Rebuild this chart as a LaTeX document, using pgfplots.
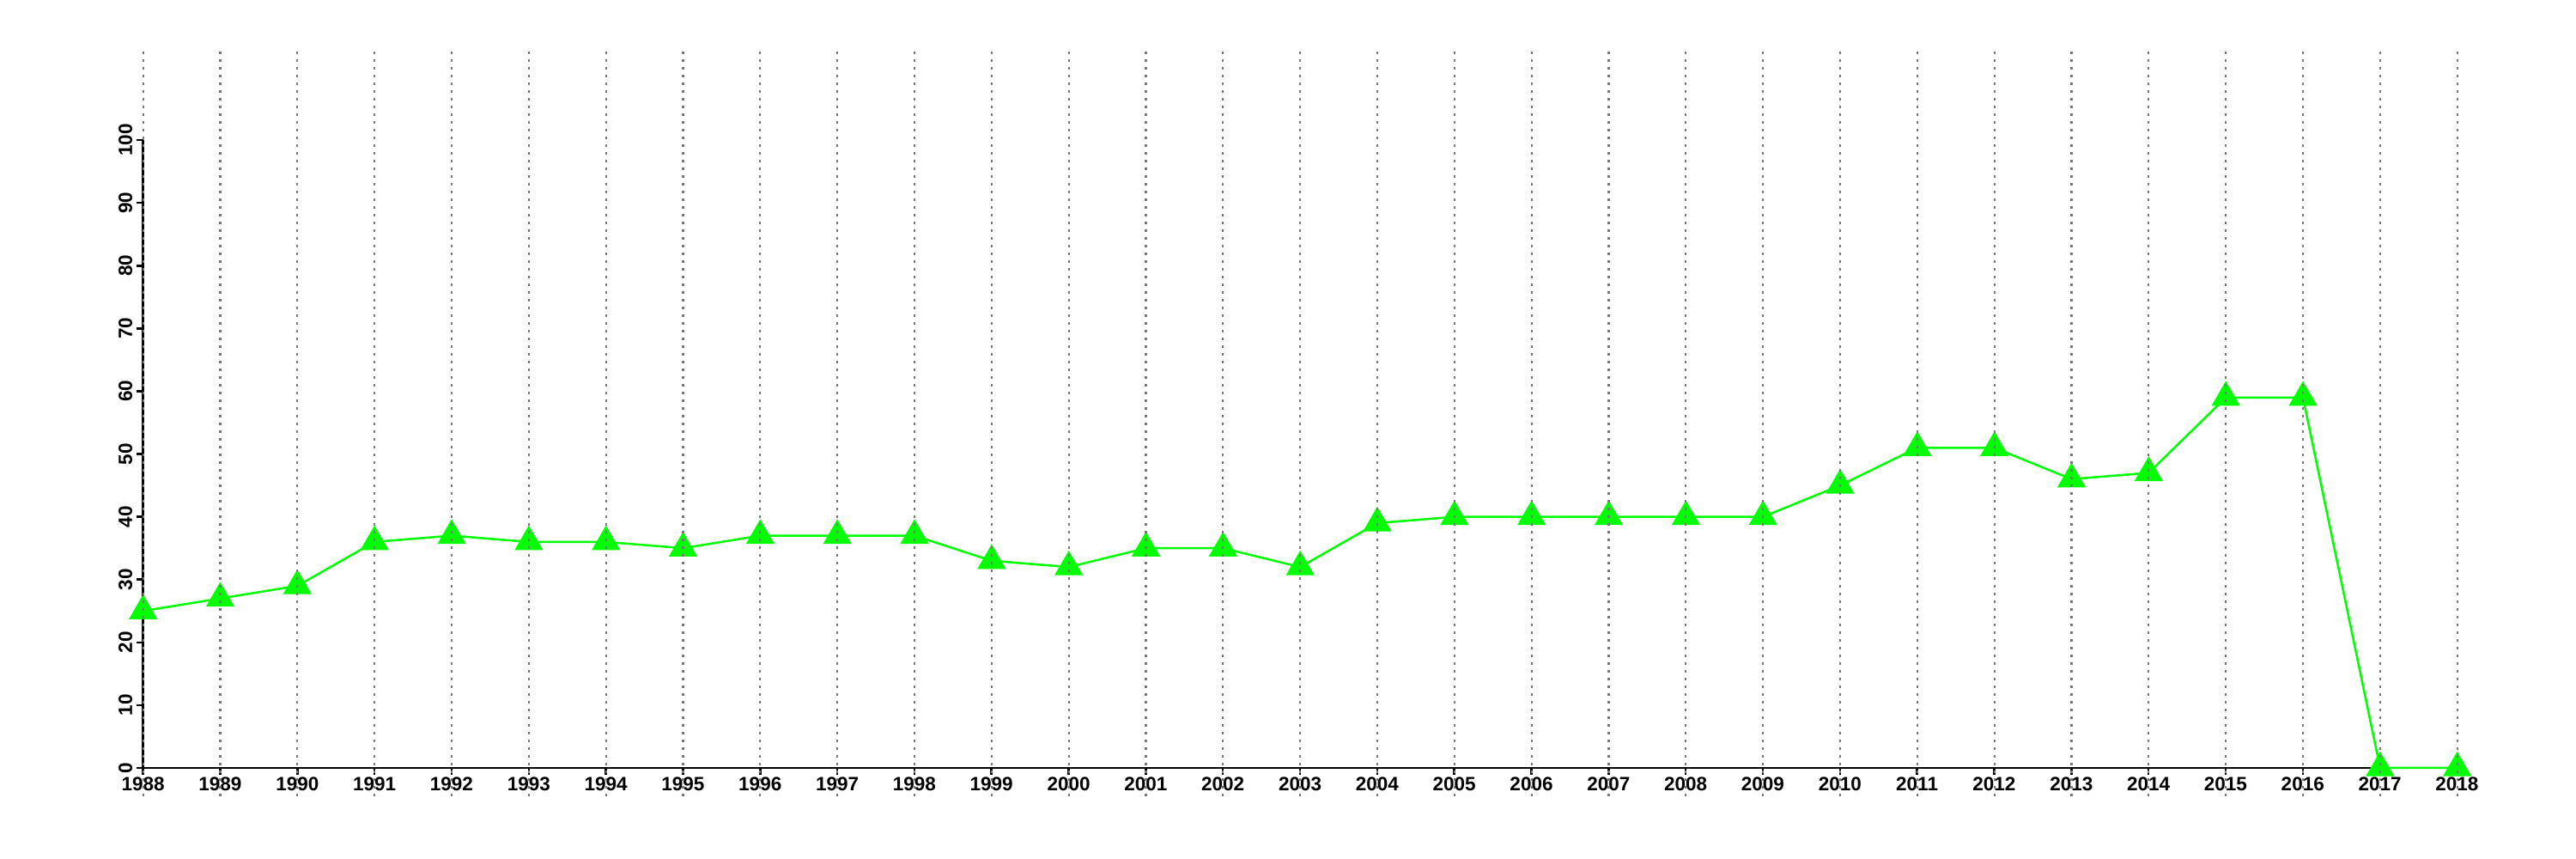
\documentclass[border=0pt]{standalone}
\usepackage{pgfplots}
\pgfplotsset{compat=1.18}
\usepackage{fontspec}
\setmainfont{Liberation Sans}
\definecolor{lgreen}{RGB}{0,255,0}
\definecolor{gridgray}{RGB}{120,120,120}
\pgfplotstableread{
year val
1988 25
1989 27
1990 29
1991 36
1992 37
1993 36
1994 36
1995 35
1996 37
1997 37
1998 37
1999 33
2000 32
2001 35
2002 35
2003 32
2004 39
2005 40
2006 40
2007 40
2008 40
2009 40
2010 45
2011 51
2012 51
2013 46
2014 47
2015 59
2016 59
2017 0
2018 0
}\datatable
\begin{document}
\begin{tikzpicture}
\begin{axis}[
  set layers,
  at={(0,0)}, anchor=south west,
  scale only axis, width=646.8pt, height=175.4pt,
  xmin=1988, xmax=2018, ymin=0, ymax=100,
  axis x line*=bottom, axis y line*=left,
  axis line style={-, line width=0.6pt, black},
  xtick={1988,...,2018}, ytick={0,10,...,100},
  tick align=outside, major tick length=1.9pt,
  tick style={line width=0.6pt, black},
  clip=false,
  /pgf/number format/assume math mode=true,
  ticklabel style={font=\fontsize{5.4}{6}\selectfont\bfseries},
  xticklabel style={anchor=north, inner sep=0.6pt, /pgf/number format/1000 sep={}},
  yticklabel style={rotate=90, anchor=south, inner sep=0.9pt},
]
\addplot[lgreen, line width=0.6pt, mark=triangle*, mark size=4pt,
  mark options={solid, fill=lgreen, draw=none}] table[x=year, y=val] {\datatable};
\pgfplotsinvokeforeach{1988,...,2018}{
  \addplot[on layer=axis foreground, gridgray, line width=0.5pt,
    dash pattern=on 0.72pt off 1.44pt, forget plot] coordinates {(#1,-4.5) (#1,114.2)};
}
\end{axis}
\path (-40pt,-25.44pt) rectangle (680pt,214.56pt);
\end{tikzpicture}
\end{document}
